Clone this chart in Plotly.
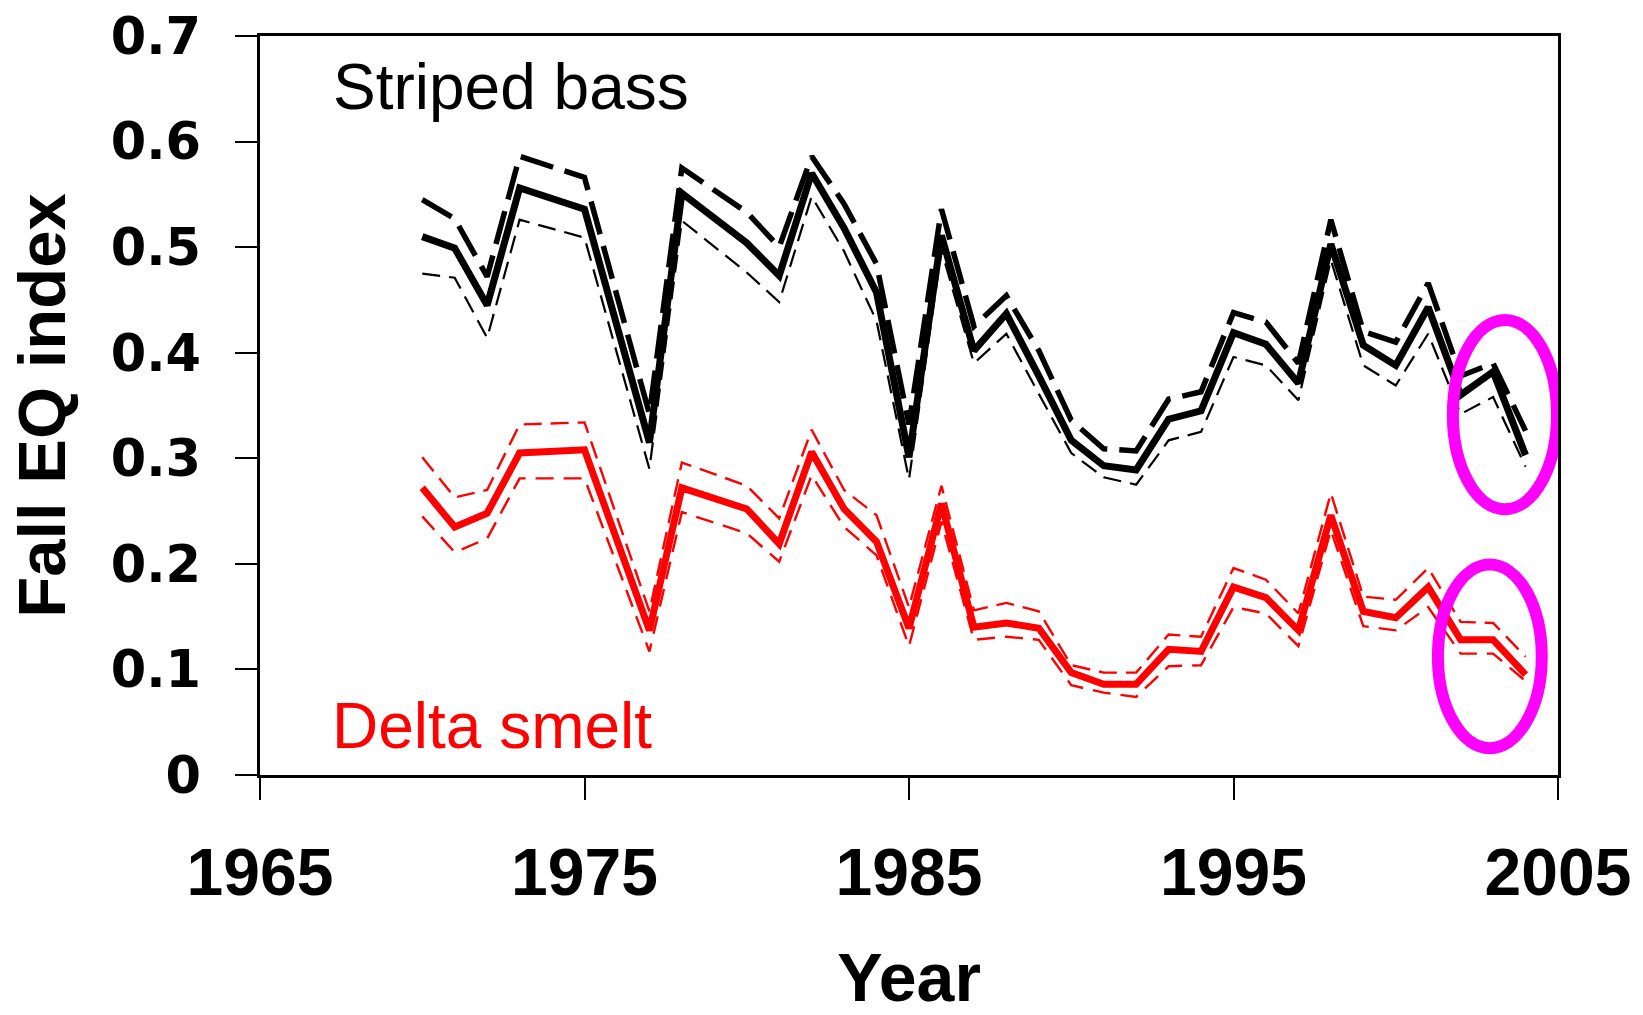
import plotly.graph_objects as go

# Survey years (1974, 1976 and 1979 have no index value)
years = [1970, 1971, 1972, 1973, 1975, 1977, 1978, 1980, 1981, 1982,
         1983, 1984, 1985, 1986, 1987, 1988, 1989, 1990, 1991, 1992,
         1993, 1994, 1995, 1996, 1997, 1998, 1999, 2000, 2001, 2002,
         2003, 2004]

# Striped bass fall EQ index with upper / lower bounds
bass_mean = [0.510, 0.499, 0.445, 0.556, 0.536, 0.315, 0.551, 0.504, 0.473, 0.570,
             0.518, 0.457, 0.301, 0.511, 0.402, 0.437, 0.378, 0.317, 0.293, 0.289,
             0.337, 0.345, 0.419, 0.408, 0.371, 0.503, 0.407, 0.388, 0.443, 0.360,
             0.382, 0.303]
bass_upper = [0.545, 0.527, 0.472, 0.586, 0.566, 0.342, 0.575, 0.533, 0.500, 0.586,
              0.541, 0.484, 0.332, 0.536, 0.425, 0.454, 0.402, 0.336, 0.309, 0.307,
              0.356, 0.363, 0.438, 0.429, 0.390, 0.526, 0.420, 0.410, 0.466, 0.378,
              0.390, 0.326]
bass_lower = [0.475, 0.471, 0.414, 0.526, 0.509, 0.290, 0.525, 0.476, 0.448, 0.548,
              0.496, 0.430, 0.280, 0.497, 0.390, 0.418, 0.361, 0.305, 0.282, 0.275,
              0.317, 0.325, 0.396, 0.388, 0.355, 0.488, 0.388, 0.369, 0.418, 0.342,
              0.358, 0.292]

# Delta smelt fall EQ index with upper / lower bounds
smelt_mean = [0.272, 0.235, 0.248, 0.305, 0.308, 0.137, 0.272, 0.252, 0.219, 0.306,
              0.252, 0.221, 0.139, 0.257, 0.140, 0.144, 0.139, 0.097, 0.086, 0.086,
              0.119, 0.117, 0.178, 0.168, 0.137, 0.246, 0.155, 0.149, 0.178, 0.128,
              0.128, 0.095]
smelt_upper = [0.301, 0.263, 0.270, 0.332, 0.334, 0.155, 0.296, 0.274, 0.243, 0.327,
               0.270, 0.246, 0.159, 0.274, 0.156, 0.163, 0.155, 0.104, 0.097, 0.097,
               0.133, 0.131, 0.196, 0.185, 0.153, 0.267, 0.169, 0.166, 0.196, 0.145,
               0.144, 0.112]
smelt_lower = [0.245, 0.211, 0.224, 0.281, 0.281, 0.117, 0.249, 0.229, 0.202, 0.284,
               0.235, 0.208, 0.122, 0.240, 0.128, 0.131, 0.128, 0.085, 0.078, 0.074,
               0.103, 0.104, 0.159, 0.153, 0.122, 0.232, 0.141, 0.137, 0.159, 0.115,
               0.115, 0.089]

x_ticks = [1965, 1975, 1985, 1995, 2005]
y_ticks = [0, 0.1, 0.2, 0.3, 0.4, 0.5, 0.6, 0.7]
y_tick_text = ["0", "0.1", "0.2", "0.3", "0.4", "0.5", "0.6", "0.7"]

BLACK = "#000000"
RED = "#FF0000"
MAGENTA = "#FF00FF"

fig = go.Figure()

# bounds first so the index lines sit on top
fig.add_trace(go.Scatter(x=years, y=bass_upper, mode="lines",
                         line=dict(color=BLACK, width=5.5, dash="34px,12px")))
fig.add_trace(go.Scatter(x=years, y=bass_lower, mode="lines",
                         line=dict(color=BLACK, width=2.2, dash="18px,9px")))
fig.add_trace(go.Scatter(x=years, y=bass_mean, mode="lines",
                         line=dict(color=BLACK, width=7)))

fig.add_trace(go.Scatter(x=years, y=smelt_upper, mode="lines",
                         line=dict(color=RED, width=2.4, dash="18px,9px")))
fig.add_trace(go.Scatter(x=years, y=smelt_lower, mode="lines",
                         line=dict(color=RED, width=2.4, dash="18px,10px")))
fig.add_trace(go.Scatter(x=years, y=smelt_mean, mode="lines",
                         line=dict(color=RED, width=7)))

# highlight the most recent years of both series
fig.add_shape(type="circle", xref="x", yref="y",
              x0=2001.76, x1=2004.97, y0=0.2517, y1=0.431,
              line=dict(color=MAGENTA, width=12))
fig.add_shape(type="circle", xref="x", yref="y",
              x0=2001.3, x1=2004.5, y0=0.0254, y1=0.1993,
              line=dict(color=MAGENTA, width=12))

fig.add_annotation(x=1967.19, y=0.652, xref="x", yref="y",
                   text="Striped bass", showarrow=False,
                   xanchor="left", yanchor="middle",
                   font=dict(family="Liberation Sans, Arial, sans-serif",
                             size=64, color=BLACK))
fig.add_annotation(x=1967.15, y=0.046, xref="x", yref="y",
                   text="Delta smelt", showarrow=False,
                   xanchor="left", yanchor="middle",
                   font=dict(family="Liberation Sans, Arial, sans-serif",
                             size=64, color=RED))

fig.update_xaxes(
    range=[1965, 2005], tickvals=x_ticks, ticktext=[str(v) for v in x_ticks],
    showgrid=False, zeroline=False, automargin=False,
    showline=True, linecolor=BLACK, linewidth=2.5, mirror=True,
    ticks="outside", ticklen=22, tickwidth=2, tickcolor=BLACK,
    ticklabelstandoff=16,
    tickfont=dict(family="Liberation Sans, Arial, sans-serif",
                  size=66, color=BLACK, weight="bold"),
    title=dict(text="Year", standoff=69,
               font=dict(family="Liberation Sans, Arial, sans-serif",
                         size=68, color=BLACK, weight="bold")),
)
fig.update_yaxes(
    range=[0, 0.7], tickvals=y_ticks, ticktext=y_tick_text,
    showgrid=False, zeroline=False, automargin=False,
    showline=True, linecolor=BLACK, linewidth=2.5, mirror=True,
    ticks="outside", ticklen=22, tickwidth=2, tickcolor=BLACK,
    ticklabelstandoff=24,
    tickfont=dict(family="DejaVu Sans, sans-serif", size=51, color=BLACK, weight="bold"),
    title=dict(text="Fall EQ index", standoff=24,
               font=dict(family="Liberation Sans, Arial, sans-serif",
                         size=67, color=BLACK, weight="bold")),
)

fig.update_layout(
    width=1643, height=1015,
    margin=dict(l=260, r=85, t=36, b=240),
    paper_bgcolor="white", plot_bgcolor="white",
    showlegend=False,
)

fig.write_html("out.html")
